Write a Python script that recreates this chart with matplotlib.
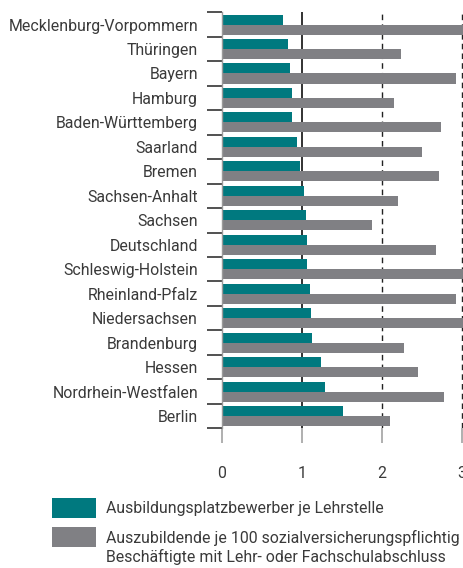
import matplotlib
matplotlib.use("Agg")
import numpy as np
import matplotlib.pyplot as plt
from matplotlib.patches import Rectangle

# data (top to bottom)
laender = ["Mecklenburg-Vorpommern", "Thüringen", "Bayern", "Hamburg",
           "Baden-Württemberg", "Saarland", "Bremen", "Sachsen-Anhalt",
           "Sachsen", "Deutschland", "Schleswig-Holstein", "Rheinland-Pfalz",
           "Niedersachsen", "Brandenburg", "Hessen", "Nordrhein-Westfalen",
           "Berlin"]
bewerber_je_stelle = [0.77, 0.83, 0.85, 0.88, 0.88, 0.94, 0.98, 1.03,
                      1.05, 1.07, 1.07, 1.10, 1.12, 1.13, 1.24, 1.29, 1.52]
azubis_je_100 = [3.10, 2.24, 2.93, 2.15, 2.74, 2.50, 2.72, 2.20,
                 1.88, 2.68, 3.10, 2.93, 3.10, 2.28, 2.45, 2.78, 2.10]
x_ticks = [0, 1, 2, 3]
legend_labels = ["Ausbildungsplatzbewerber je Lehrstelle",
                 "Auszubildende je 100 sozialversicherungspflichtig\n"
                 "Beschäftigte mit Lehr- oder Fachschulabschluss"]

teal = "#00797f"
grey = "#808084"
text_col = "#3a3a3a"

plt.rcParams["font.family"] = ["Roboto", "DejaVu Sans"]
fs = 11.4

W, H = 463, 568
fig = plt.figure(figsize=(W / 100, H / 100), dpi=100)

# axes placed in pixels
x0, x1 = 221.7, 463.0
y_top, y_bot = 12.3, 428.3
ax = fig.add_axes([x0 / W, 1 - y_bot / H, (x1 - x0) / W, (y_bot - y_top) / H])

ind = np.arange(len(laender))
h = 0.41
ax.barh(ind - h / 2, bewerber_je_stelle, h, color=teal, zorder=3)
ax.barh(ind + h / 2, azubis_je_100, h, color=grey, zorder=3)

ax.set_xlim(0, (x1 - x0) / 80.0)
ax.set_ylim(len(laender) - 0.5, -0.5)

# vertical reference lines
ax.axvline(1, color="#222222", lw=1.3, zorder=1)
for v in (2, 3):
    ax.axvline(v, color="#222222", lw=1.0, ls=(0, (4, 3)), zorder=1)

for s in ("top", "right", "bottom"):
    ax.spines[s].set_visible(False)
ax.spines["left"].set_color("#9a9a9a")
ax.spines["left"].set_linewidth(1.0)
ax.spines["left"].set_zorder(4)

# category labels at centres, tick marks at boundaries
ax.set_yticks(ind)
ax.set_yticklabels(laender)
ax.set_yticks(np.arange(len(laender) + 1) - 0.5, minor=True)
ax.tick_params(axis="y", which="major", length=0, pad=17, labelsize=fs,
               labelcolor=text_col)
ax.tick_params(axis="y", which="minor", length=10.8, width=1.2,
               color="#333333", direction="out")

ax.set_xticks(x_ticks)
ax.set_xticklabels([str(t) for t in x_ticks])
ax.tick_params(axis="x", length=10.8, width=1.1, color="#9a9a9a", pad=16,
               labelsize=fs, labelcolor=text_col)

# legend drawn in figure pixels
for i, (lab, col) in enumerate(zip(legend_labels, [teal, grey])):
    top = [498.3, 527.3][i]
    fig.add_artist(Rectangle((52 / W, 1 - (top + 19.3) / H), 44 / W, 19.3 / H,
                             transform=fig.transFigure, color=col, lw=0))
    fig.text(106 / W, 1 - (top + 2.5) / H, lab, ha="left", va="top",
             fontsize=fs, color=text_col, linespacing=1.25)

fig.savefig("out.png", dpi=100)
